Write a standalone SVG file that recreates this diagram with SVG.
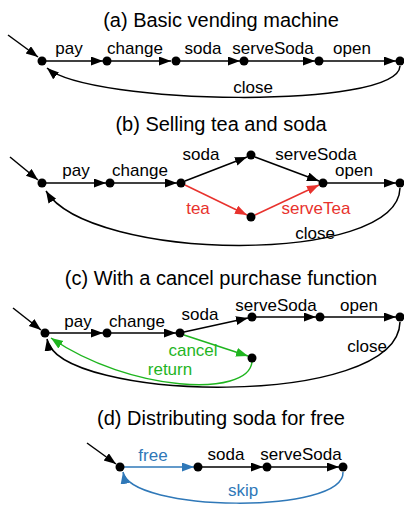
<svg xmlns="http://www.w3.org/2000/svg" width="404" height="506" viewBox="0 0 404 506">
<style>
text{font-family:"Liberation Sans",Arial,sans-serif;fill:#000}
.t{font-size:20px;text-anchor:middle}
.l{font-size:17px;text-anchor:middle}
.e{fill:none;stroke:#000;stroke-width:1.5}
.red{stroke:#e8322d}
.grn{stroke:#1fb51f}
.blu{stroke:#2f78b8}
text.red{fill:#e8322d;stroke:none}
text.grn{fill:#1fb51f;stroke:none}
text.blu{fill:#2f78b8;stroke:none}
.n{fill:#000}
</style>
<defs>
<marker id="ak" markerUnits="userSpaceOnUse" markerWidth="14" markerHeight="10" refX="12" refY="4.5" orient="auto"><path d="M0,0 L12,4.5 L0,9 z" fill="#000"/></marker>
<marker id="ar" markerUnits="userSpaceOnUse" markerWidth="14" markerHeight="10" refX="12" refY="4.5" orient="auto"><path d="M0,0 L12,4.5 L0,9 z" fill="#e8322d"/></marker>
<marker id="ag" markerUnits="userSpaceOnUse" markerWidth="14" markerHeight="10" refX="12" refY="4.5" orient="auto"><path d="M0,0 L12,4.5 L0,9 z" fill="#1fb51f"/></marker>
<marker id="ab" markerUnits="userSpaceOnUse" markerWidth="14" markerHeight="10" refX="12" refY="4.5" orient="auto"><path d="M0,0 L12,4.5 L0,9 z" fill="#2f78b8"/></marker>
</defs>

<text class="t" x="221" y="27">(a) Basic vending machine</text>
<text class="t" x="221" y="131">(b) Selling tea and soda</text>
<text class="t" x="221" y="285">(c) With a cancel purchase function</text>
<text class="t" x="221" y="425">(d) Distributing soda for free</text>

<g id="connectors">
<!-- (a) -->
<line class="e" x1="8" y1="35" x2="38" y2="57" marker-end="url(#ak)"/>
<line class="e" x1="46" y1="61" x2="103" y2="61" marker-end="url(#ak)"/>
<line class="e" x1="111" y1="61" x2="171" y2="61" marker-end="url(#ak)"/>
<line class="e" x1="180" y1="61" x2="240" y2="61" marker-end="url(#ak)"/>
<line class="e" x1="248" y1="61" x2="315" y2="61" marker-end="url(#ak)"/>
<line class="e" x1="323" y1="61" x2="396" y2="61" marker-end="url(#ak)"/>
<path class="e" d="M400,66 C398,110 90,105 47,68" marker-end="url(#ak)"/>
<!-- (b) -->
<line class="e" x1="10" y1="157" x2="38" y2="180" marker-end="url(#ak)"/>
<line class="e" x1="46" y1="183" x2="106" y2="183" marker-end="url(#ak)"/>
<line class="e" x1="114" y1="183" x2="177" y2="183" marker-end="url(#ak)"/>
<line class="e" x1="185" y1="181" x2="247" y2="157" marker-end="url(#ak)"/>
<line class="e" x1="255" y1="157" x2="319" y2="181" marker-end="url(#ak)"/>
<line class="e red" x1="185" y1="185" x2="247" y2="215" marker-end="url(#ar)"/>
<line class="e red" x1="255" y1="215" x2="319" y2="185" marker-end="url(#ar)"/>
<line class="e" x1="327" y1="183" x2="396" y2="183" marker-end="url(#ak)"/>
<path class="e" d="M400,188 C398,266 90,262 46,191" marker-end="url(#ak)"/>
<!-- (c) -->
<line class="e" x1="13" y1="308" x2="41" y2="330" marker-end="url(#ak)"/>
<line class="e" x1="49" y1="333" x2="103" y2="333" marker-end="url(#ak)"/>
<line class="e" x1="111" y1="333" x2="176" y2="333" marker-end="url(#ak)"/>
<line class="e" x1="184" y1="332" x2="248" y2="318" marker-end="url(#ak)"/>
<line class="e" x1="256" y1="317" x2="316" y2="317" marker-end="url(#ak)"/>
<line class="e" x1="324" y1="317" x2="396" y2="317" marker-end="url(#ak)"/>
<line class="e grn" x1="184" y1="335" x2="248" y2="356" marker-end="url(#ag)"/>
<path class="e" d="M400,322 C398,410 58,402 47,339" marker-end="url(#ak)"/>
<path class="e grn" d="M252,362 C248,398 130,392 51,338" marker-end="url(#ag)"/>
<!-- (d) -->
<line class="e" x1="87" y1="443" x2="116" y2="464" marker-end="url(#ak)"/>
<line class="e blu" x1="124" y1="467" x2="194" y2="467" marker-end="url(#ab)"/>
<line class="e" x1="202" y1="467" x2="263" y2="467" marker-end="url(#ak)"/>
<line class="e" x1="271" y1="467" x2="339" y2="467" marker-end="url(#ak)"/>
<path class="e blu" d="M343,472 C345,515 130,512 123,472" marker-end="url(#ab)"/>
</g>

<g id="labels">
<text class="l" x="69" y="54">pay</text>
<text class="l" x="135" y="54">change</text>
<text class="l" x="203" y="54">soda</text>
<text class="l" x="273" y="54">serveSoda</text>
<text class="l" x="352" y="54">open</text>
<text class="l" x="253" y="93">close</text>

<text class="l" x="76" y="176">pay</text>
<text class="l" x="140" y="176">change</text>
<text class="l" x="201" y="160">soda</text>
<text class="l" x="316" y="160">serveSoda</text>
<text class="l" x="354" y="176">open</text>
<text class="l red" x="198" y="214">tea</text>
<text class="l red" x="316" y="214">serveTea</text>
<text class="l" x="315" y="239">close</text>

<text class="l" x="78" y="327">pay</text>
<text class="l" x="137" y="327">change</text>
<text class="l" x="200" y="320">soda</text>
<text class="l" x="276" y="311">serveSoda</text>
<text class="l" x="359" y="311">open</text>
<text class="l" x="367" y="352">close</text>
<text class="l grn" x="193" y="356">cancel</text>
<text class="l grn" x="170" y="375">return</text>

<text class="l blu" x="153" y="461">free</text>
<text class="l" x="226" y="460">soda</text>
<text class="l" x="301" y="460">serveSoda</text>
<text class="l blu" x="243" y="496">skip</text>
</g>

<g id="a0"><circle class="n" cx="42" cy="61" r="4.5"/></g>
<g id="a1"><circle class="n" cx="107" cy="61" r="4.5"/></g>
<g id="a2"><circle class="n" cx="176" cy="61" r="4.5"/></g>
<g id="a3"><circle class="n" cx="244" cy="61" r="4.5"/></g>
<g id="a4"><circle class="n" cx="319" cy="61" r="4.5"/></g>
<g id="a5"><circle class="n" cx="400" cy="61" r="4.5"/></g>

<g id="b0"><circle class="n" cx="42" cy="183" r="4.5"/></g>
<g id="b1"><circle class="n" cx="110" cy="183" r="4.5"/></g>
<g id="b2"><circle class="n" cx="181" cy="183" r="4.5"/></g>
<g id="b3"><circle class="n" cx="251" cy="155" r="4.5"/></g>
<g id="b4"><circle class="n" cx="251" cy="217" r="4.5"/></g>
<g id="b5"><circle class="n" cx="323" cy="183" r="4.5"/></g>
<g id="b6"><circle class="n" cx="400" cy="183" r="4.5"/></g>

<g id="c0"><circle class="n" cx="45" cy="333" r="4.5"/></g>
<g id="c1"><circle class="n" cx="107" cy="333" r="4.5"/></g>
<g id="c2"><circle class="n" cx="180" cy="333" r="4.5"/></g>
<g id="c3"><circle class="n" cx="252" cy="317" r="4.5"/></g>
<g id="c4"><circle class="n" cx="320" cy="317" r="4.5"/></g>
<g id="c5"><circle class="n" cx="400" cy="317" r="4.5"/></g>
<g id="c6"><circle class="n" cx="252" cy="358" r="4.5"/></g>

<g id="d0"><circle class="n" cx="120" cy="467" r="4.5"/></g>
<g id="d1"><circle class="n" cx="198" cy="467" r="4.5"/></g>
<g id="d2"><circle class="n" cx="267" cy="467" r="4.5"/></g>
<g id="d3"><circle class="n" cx="343" cy="467" r="4.5"/></g>
</svg>
